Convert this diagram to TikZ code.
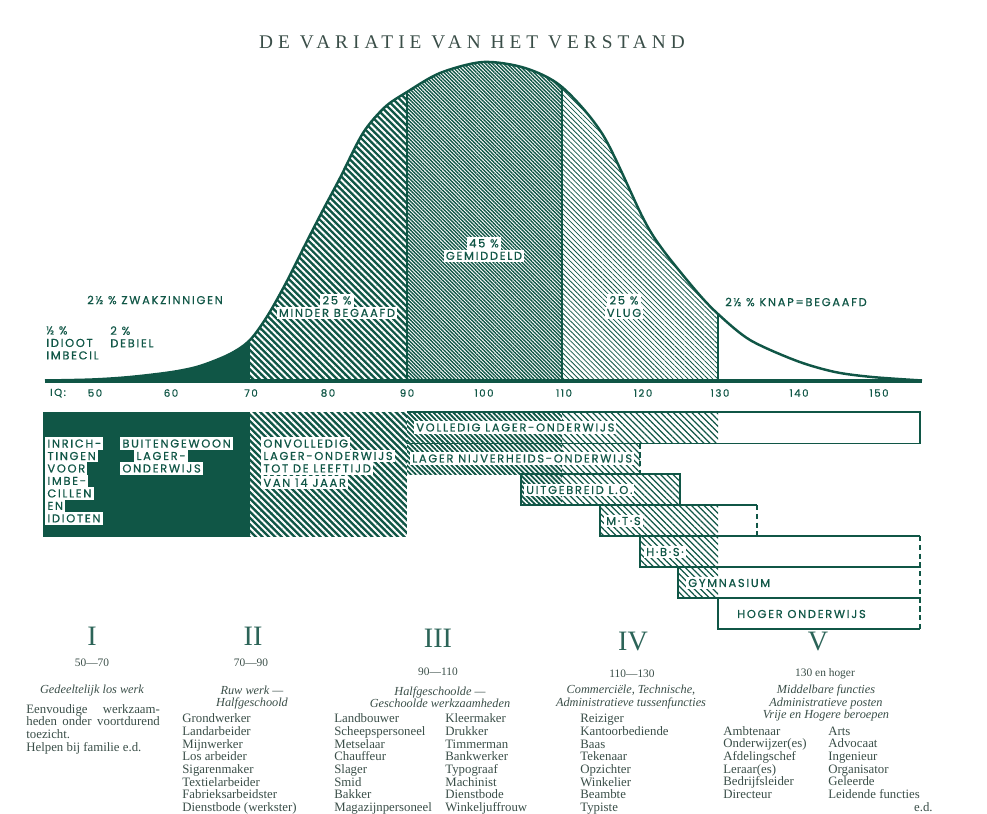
\documentclass[tikz,border=0pt]{standalone}
\usepackage{fontspec}
\usepackage{xcolor}
\usepackage{tikz}
\usetikzlibrary{patterns.meta}
\setmainfont{Liberation Serif}
\newfontfamily\letterfont[LetterSpace=15, FakeBold=0.6]{Poppins}
\newfontfamily\titlefont[LetterSpace=26]{Liberation Serif}
\definecolor{ink}{RGB}{16,86,70}
\definecolor{print}{RGB}{58,78,72}
\definecolor{numeral}{RGB}{44,100,88}
\setlength{\fboxsep}{1.2pt}
\newcommand{\wtag}[1]{\colorbox{white}{#1}}
\tikzset{
    curve-line/.style = {draw=ink, line width=1.4pt},
    axis-line/.style = {draw=ink, line width=1.8pt},
    divider/.style = {draw=ink, line width=0.9pt},
    white-stripes/.style = {pattern={Lines[angle=-45, distance=2.6pt, line width=1.1pt]}, pattern color=white},
    fine-lines/.style = {pattern={Lines[angle=-45, distance=1.45pt, line width=0.8pt]}, pattern color=ink},
    thin-lines/.style = {pattern={Lines[angle=-45, distance=2pt, line width=0.45pt]}, pattern color=ink},
    bar-dark/.style = {pattern={Lines[angle=-45, distance=2pt, line width=1.05pt]}, pattern color=ink},
    bar-light/.style = {pattern={Lines[angle=-45, distance=2.5pt, line width=0.7pt]}, pattern color=ink},
    bar-edge/.style = {draw=ink, line width=1pt},
    bar-open/.style = {draw=ink, line width=1pt, dash pattern=on 3pt off 2pt},
    curve-text/.style = {font=\letterfont\fontsize{6.5}{7.1}\selectfont, text=ink, inner sep=0pt, align=left},
    curve-tag/.style = {curve-text, align=center},
    axis-label/.style = {font=\letterfont\fontsize{5.8}{6}\selectfont, text=ink, inner sep=0pt},
    bar-text/.style = {curve-text, anchor=west, fill=white, inner sep=1.1pt},
    block-text/.style = {curve-text, anchor=north west},
    title-text/.style = {font=\titlefont\fontsize{11}{12}\selectfont, text=print},
    col-numeral/.style = {font=\fontsize{16}{18}\selectfont, text=numeral, inner sep=0pt},
    col-range/.style = {font=\fontsize{6.5}{7}\selectfont, text=print, inner sep=0pt},
    col-note/.style = {font=\itshape\fontsize{7}{7.1}\selectfont, text=print, inner sep=0pt, align=center},
    col-list/.style = {font=\fontsize{7.3}{7.2}\selectfont, text=print, inner sep=0pt, align=left, anchor=base west},
}

\begin{document}
\begin{tikzpicture}[x=0.02cm, y=-0.02cm]
\useasboundingbox (0,0) rectangle (987,814);
\def\bellcurve{plot[smooth] coordinates {(45,380.5) (92,379.5) (130,377) (172,372) (200,366) (230,354) (250,340) (268,315) (287,281) (305,245) (323,210) (340,178) (363,133) (385,107) (407,92) (440,73) (483,62) (525,68) (562,87) (603,135) (643,218) (663,250) (697,292) (718,314) (750,340) (797,361) (835,372) (872,377) (922,380.5)}}

\node[title-text] (title) at (472,42) {DE VARIATIE VAN HET VERSTAND};

% the bell
\begin{scope}
  \clip (40,0) rectangle (250,385);
  \fill[ink] \bellcurve -- cycle;
\end{scope}
\begin{scope}
  \clip (250,0) rectangle (407,385);
  \fill[ink, postaction={white-stripes}] \bellcurve -- cycle;
\end{scope}
\begin{scope}
  \clip (407,0) rectangle (562,385);
  \fill[fine-lines] \bellcurve -- cycle;
\end{scope}
\begin{scope}
  \clip (562,0) rectangle (718,385);
  \fill[thin-lines] \bellcurve -- cycle;
\end{scope}
\begin{scope}
  \clip \bellcurve -- cycle;
  \draw[divider] (407,40) -- (407,381);
  \draw[divider] (562,40) -- (562,381);
  \draw[divider] (718,40) -- (718,381);
\end{scope}
\draw[curve-line] \bellcurve;
\draw[axis-line] (45,381) -- (922,381);

\node[curve-text] (zwak) at (155,300) {2½ \% ZWAKZINNIGEN};
\node[curve-text, anchor=north west] (idioot) at (46,326) {½ \%\\IDIOOT\\IMBECIL};
\node[curve-text, anchor=north west] (debiel) at (110,326) {2 \%\\DEBIEL};
\node[curve-tag] (minder) at (337,306.5) {\wtag{25 \%}\\\wtag{MINDER BEGAAFD}};
\node[curve-tag] (gemiddeld) at (484,249.5) {\wtag{45 \%}\\\wtag{GEMIDDELD}};
\node[curve-tag] (vlug) at (624,306.5) {\wtag{25 \%}\\\wtag{VLUG}};
\node[curve-text] (knap) at (796,302) {2½ \% KNAP=BEGAAFD};

% IQ scale
\node[axis-label] (iq) at (58,393) {IQ:};
\node[axis-label] (iq-50) at (95,393) {50};
\node[axis-label] (iq-60) at (171,393) {60};
\node[axis-label] (iq-70) at (251,393) {70};
\node[axis-label] (iq-80) at (328,393) {80};
\node[axis-label] (iq-90) at (407,393) {90};
\node[axis-label] (iq-100) at (484,393) {100};
\node[axis-label] (iq-110) at (564,393) {110};
\node[axis-label] (iq-120) at (643,393) {120};
\node[axis-label] (iq-130) at (720,393) {130};
\node[axis-label] (iq-140) at (799,393) {140};
\node[axis-label] (iq-150) at (879,393) {150};

% schooling bars
\fill[ink] (43,412) rectangle (250,537);
\fill[ink, postaction={white-stripes}] (250,412) rectangle (407,537);
\fill[bar-dark] (407,412) rectangle (562,474);
\fill[bar-light] (562,412) rectangle (718,443.5);
\fill[bar-light] (562,443.5) rectangle (640,474);
\fill[bar-dark] (521,474) rectangle (562,505);
\fill[bar-light] (562,474) rectangle (680,505);
\fill[bar-light] (600,505) rectangle (718,536);
\fill[bar-light] (640,536) rectangle (718,567);
\fill[bar-light] (678,567) rectangle (718,598);

\draw[bar-edge] (407,412) -- (920,412) -- (920,443.5) -- (407,443.5);
\draw[bar-open] (640,443.5) -- (640,474);
\draw[bar-edge] (521,474) rectangle (680,505);
\draw[bar-edge] (757,505) -- (600,505) -- (600,536) -- (920,536);
\draw[bar-open] (757,505) -- (757,536);
\draw[bar-edge] (640,536) -- (640,567) -- (920,567);
\draw[bar-open] (920,536) -- (920,629);
\draw[bar-edge] (678,567) -- (678,598) -- (920,598);
\draw[bar-edge] (718,598) -- (718,629) -- (920,629);

\node[block-text] (inrichting) at (45,437) {\wtag{INRICH-}\\\wtag{TINGEN}\\\wtag{VOOR}\\\wtag{IMBE-}\\\wtag{CILLEN}\\\wtag{EN}\\\wtag{IDIOTEN}};
\node[block-text] (buitengewoon) at (120,437) {\wtag{BUITENGEWOON}\\\hspace*{8pt}\wtag{LAGER-}\\\wtag{ONDERWIJS}};
\node[block-text] (onvolledig) at (261,437) {\wtag{ONVOLLEDIG}\\\wtag{LAGER-ONDERWIJS}\\\wtag{TOT DE LEEFTIJD}\\\wtag{VAN 14 JAAR}};

\node[bar-text] (volledig) at (414,427.5) {VOLLEDIG LAGER-ONDERWIJS};
\node[bar-text] (nijverheid) at (410,458.5) {LAGER NIJVERHEIDS-ONDERWIJS};
\node[bar-text] (uitgebreid) at (524,490) {UITGEBREID L.O.};
\node[bar-text] (mts) at (604,521) {M·T·S};
\node[bar-text] (hbs) at (644,552) {H·B·S·};
\node[bar-text] (gymnasium) at (686,583) {GYMNASIUM};
\node[bar-text] (hoger) at (735,614) {HOGER ONDERWIJS};

% groups I to V
\node[col-numeral] (num-i) at (92,636) {I};
\node[col-range] (range-i) at (92,663) {50—70};
\node[col-note] (note-i) at (92,691) {Gedeeltelijk los werk};
\node[col-list] (list-i) at (26,751) {\makebox[76pt][s]{Eenvoudige werkzaam-}\\\makebox[76pt][s]{heden onder voortdurend}\\toezicht.\\Helpen bij familie e.d.};

\node[col-numeral] (num-ii) at (253,636) {II};
\node[col-range] (range-ii) at (251,663) {70—90};
\node[col-note] (note-ii) at (252,697.5) {Ruw werk —\\Halfgeschoold};
\node[col-list] (list-ii) at (182,811.5) {Grondwerker\\Landarbeider\\Mijnwerker\\Los arbeider\\Sigarenmaker\\Textielarbeider\\Fabrieksarbeidster\\Dienstbode (werkster)};

\node[col-numeral] (num-iii) at (438,638) {III};
\node[col-range] (range-iii) at (438,672) {90—110};
\node[col-note] (note-iii) at (440,697) {Halfgeschoolde —\\Geschoolde werkzaamheden};
\node[col-list] (list-iii-a) at (334,811.5) {Landbouwer\\Scheepspersoneel\\Metselaar\\Chauffeur\\Slager\\Smid\\Bakker\\Magazijnpersoneel};
\node[col-list] (list-iii-b) at (445,811.5) {Kleermaker\\Drukker\\Timmerman\\Bankwerker\\Typograaf\\Machinist\\Dienstbode\\Winkeljuffrouw};

\node[col-numeral] (num-iv) at (633,642) {IV};
\node[col-range] (range-iv) at (632,674) {110—130};
\node[col-note] (note-iv) at (631,697) {Commerciële, Technische,\\Administratieve tussenfuncties};
\node[col-list] (list-iv) at (580,811.5) {Reiziger\\Kantoorbediende\\Baas\\Tekenaar\\Opzichter\\Winkelier\\Beambte\\Typiste};

\node[col-numeral] (num-v) at (818,642) {V};
\node[col-range] (range-v) at (825,674) {130 en hoger};
\node[col-note] (note-v) at (826,703) {Middelbare functies\\Administratieve posten\\Vrije en Hogere beroepen};
\node[col-list] (list-v-a) at (723,798.5) {Ambtenaar\\Onderwijzer(es)\\Afdelingschef\\Leraar(es)\\Bedrijfsleider\\Directeur};
\node[col-list] (list-v-b) at (828,798.5) {Arts\\Advocaat\\Ingenieur\\Organisator\\Geleerde\\Leidende functies};
\node[col-list, anchor=base east] (ed-v) at (933,811) {e.d.};
\end{tikzpicture}
\end{document}
